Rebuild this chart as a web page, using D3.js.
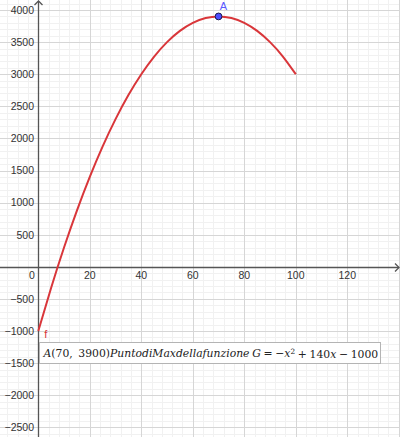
<!DOCTYPE html>
<html>
<head>
<meta charset="utf-8">
<script src="https://cdn.jsdelivr.net/npm/d3@7"></script>
<style>
  body { margin: 0; background: #fff; }
</style>
</head>
<body>
<div id="graph"></div>
<script>
// points of f(x) = -x^2 + 140x - 1000
var xs = [0, 5, 10, 15, 20, 25, 30, 35, 40, 45, 50, 55, 60, 65, 70, 75, 80, 85, 90, 95, 100];
var ys = [-1000, -325, 300, 875, 1400, 1875, 2300, 2675, 3000, 3275, 3500, 3675, 3800, 3875, 3900, 3875, 3800, 3675, 3500, 3275, 3000];

// the maximum point A
var pointA = {name: "A", x: 70, y: 3900};

// tick labels
var xTicks = [20, 40, 60, 80, 100, 120];
var yTicks = [-2500, -2000, -1500, -1000, -500, 500, 1000, 1500, 2000, 2500, 3000, 3500, 4000];

var width = 400, height = 437;

var svg = d3.select("#graph")
  .append("svg")
    .attr("width", width)
    .attr("height", height);

var x = d3.scaleLinear().domain([-14.87, 140.47]).range([0, width]);
var y = d3.scaleLinear().domain([-2651, 4156]).range([height, 0]);

// grid: minor then major
var grid = svg.append("g");
grid.selectAll(".vminor")
  .data(d3.range(-12, 141, 4))
  .enter().append("line")
    .attr("x1", function(d) { return Math.round(x(d)) + 0.5; })
    .attr("x2", function(d) { return Math.round(x(d)) + 0.5; })
    .attr("y1", 0).attr("y2", height)
    .attr("stroke", "#f1f1f1");
grid.selectAll(".hminor")
  .data(d3.range(-2600, 4200, 100))
  .enter().append("line")
    .attr("y1", function(d) { return Math.round(y(d)) + 0.5; })
    .attr("y2", function(d) { return Math.round(y(d)) + 0.5; })
    .attr("x1", 0).attr("x2", width)
    .attr("stroke", "#f1f1f1");
grid.selectAll(".vmajor")
  .data(d3.range(-20, 141, 20))
  .enter().append("line")
    .attr("x1", function(d) { return Math.round(x(d)) + 0.5; })
    .attr("x2", function(d) { return Math.round(x(d)) + 0.5; })
    .attr("y1", 0).attr("y2", height)
    .attr("stroke", "#d6d6d6");
grid.selectAll(".hmajor")
  .data(d3.range(-2500, 4200, 500))
  .enter().append("line")
    .attr("y1", function(d) { return Math.round(y(d)) + 0.5; })
    .attr("y2", function(d) { return Math.round(y(d)) + 0.5; })
    .attr("x1", 0).attr("x2", width)
    .attr("stroke", "#d6d6d6");

// axes
var ox = Math.round(x(0)) + 0.5, oy = Math.round(y(0)) + 0.5;
var axis = svg.append("g").attr("stroke", "#555").attr("stroke-width", 1.3).attr("fill", "none");
axis.append("line").attr("x1", 0).attr("x2", width - 1).attr("y1", oy).attr("y2", oy);
axis.append("line").attr("x1", ox).attr("x2", ox).attr("y1", 1).attr("y2", height);
axis.append("path").attr("d", "M" + (width - 5) + "," + (oy - 4) + "L" + (width - 1) + "," + oy + "L" + (width - 5) + "," + (oy + 4));
axis.append("path").attr("d", "M" + (ox - 4) + ",5L" + ox + ",1L" + (ox + 4) + ",5");

// tick labels
var labels = svg.append("g")
  .attr("font-family", "Liberation Sans, Arial, sans-serif")
  .attr("font-size", 10.5)
  .attr("fill", "#333");
labels.selectAll(".xl")
  .data(xTicks)
  .enter().append("text")
    .attr("x", function(d) { return x(d); })
    .attr("y", oy + 11.5)
    .attr("text-anchor", "middle")
    .text(function(d) { return d; });
labels.selectAll(".yl")
  .data(yTicks)
  .enter().append("text")
    .attr("x", ox - 4.5)
    .attr("y", function(d) { return y(d) + 3.8; })
    .attr("text-anchor", "end")
    .text(function(d) { return String(d).replace("-", "\u2212"); });
labels.append("text")
  .attr("x", ox - 6.5).attr("y", oy + 11.5)
  .attr("text-anchor", "middle")
  .text("0");

// the curve f
var line = d3.line()
  .x(function(d) { return x(d[0]); })
  .y(function(d) { return y(d[1]); })
  .curve(d3.curveNatural);
svg.append("path")
  .datum(d3.zip(xs, ys))
  .attr("d", line)
  .attr("fill", "none")
  .attr("stroke", "#d9363a")
  .attr("stroke-width", 2);

svg.append("text")
  .attr("x", x(xs[0]) + 6).attr("y", y(ys[0]) + 7)
  .attr("font-family", "Liberation Sans, Arial, sans-serif")
  .attr("font-size", 11)
  .attr("fill", "#d9363a")
  .text("f");

// point A
svg.append("circle")
  .attr("cx", x(pointA.x)).attr("cy", y(pointA.y))
  .attr("r", 3.4)
  .attr("fill", "#4d4dff")
  .attr("stroke", "#1a1a4d")
  .attr("stroke-width", 1);
svg.append("text")
  .attr("x", x(pointA.x) + 5).attr("y", y(pointA.y) - 6.5)
  .attr("text-anchor", "middle")
  .attr("font-family", "Liberation Sans, Arial, sans-serif")
  .attr("font-size", 11)
  .attr("fill", "#5a5aff")
  .text(pointA.name);

// caption box
var box = svg.append("g");
box.append("rect")
  .attr("x", 39.5).attr("y", 342.5)
  .attr("width", 341).attr("height", 21)
  .attr("fill", "#fff")
  .attr("stroke", "#b4b4b4")
  .attr("stroke-width", 1);
var cap = box.append("text")
  .attr("x", 43.5).attr("y", 357)
  .attr("font-family", "DejaVu Serif, Liberation Serif, serif")
  .attr("font-size", 10.8)
  .attr("fill", "#222");
var parts = [
  ["A", true], ["(70,\u2009 3900)", false], ["PuntodiMaxdellafunzione", true],
  ["\u2005G", true], ["\u2005=\u2005\u2212", false], ["x", true]
];
parts.forEach(function(p) {
  cap.append("tspan").attr("font-style", p[1] ? "italic" : "normal").text(p[0]);
});
cap.append("tspan").attr("font-size", "0.68em").attr("dy", "-0.4em").text("2");
cap.append("tspan").attr("dy", "0.4em").text("\u2005+\u2005140");
cap.append("tspan").attr("font-style", "italic").text("x");
cap.append("tspan").text("\u2005\u2212\u20051000");
</script>
</body>
</html>
